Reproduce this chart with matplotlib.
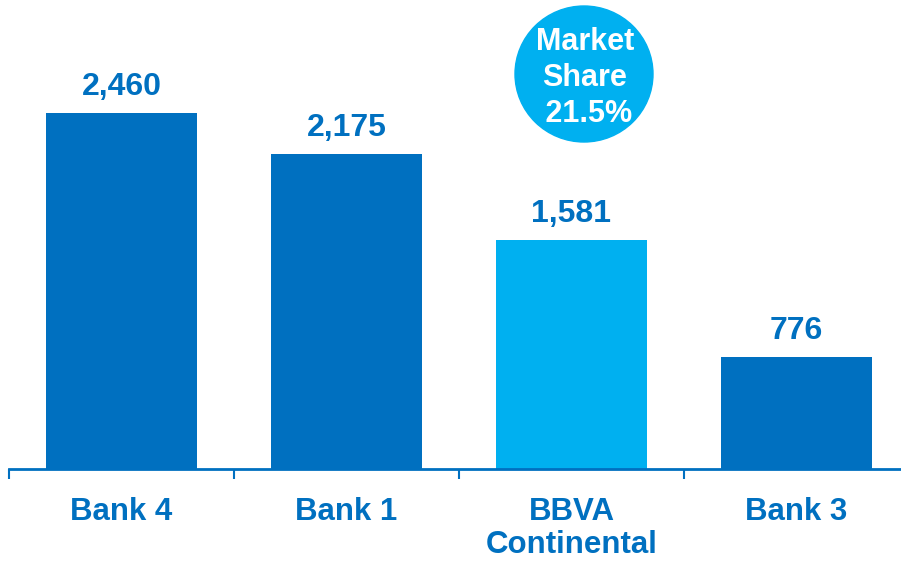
import matplotlib.pyplot as plt
from matplotlib.patches import Ellipse

banks = ['Bank 4', 'Bank 1', 'BBVA\nContinental', 'Bank 3']
values = [2460, 2175, 1581, 776]
highlight = 'BBVA\nContinental'
share_text = 'Market\nShare\n 21.5%'

dark = '#0070C0'
light = '#00B0F0'

plt.rcParams['font.family'] = ['Liberation Sans', 'DejaVu Sans']

fig = plt.figure(figsize=(9.01, 5.61), dpi=100)
ax = fig.add_axes([9 / 901, 92 / 561, 900 / 901, 469 / 561])

x = range(len(banks))
colors = [light if b == highlight else dark for b in banks]
bars = ax.bar(x, values, width=0.67, color=colors, zorder=2)

for xi, v in zip(x, values):
    ax.annotate(f'{v:,}', (xi, v), xytext=(0, 13), textcoords='offset points',
                ha='center', va='baseline', fontsize=23, fontweight='bold', color=dark)

ax.set_xlim(-0.5, len(banks) - 0.5)
ax.set_ylim(0, 469 / 0.1447)

for s in ['top', 'right', 'left']:
    ax.spines[s].set_visible(False)
ax.spines['bottom'].set_color(dark)
ax.spines['bottom'].set_linewidth(2)
ax.spines['bottom'].set_zorder(3)
ax.set_yticks([])

ax.set_xticks([i - 0.5 for i in range(len(banks) + 1)])
ax.set_xticklabels([])
ax.tick_params(axis='x', direction='out', length=7.5, width=1.5, color=dark)
ax.set_xticks(list(x), minor=True)
ax.set_xticklabels(banks, minor=True, fontsize=22.5, fontweight='bold', color=dark,
                   linespacing=1.12, va='top')
ax.tick_params(axis='x', which='minor', length=0, pad=20)

circ = Ellipse((584 / 901, 1 - 74 / 561), 138 / 901, 136 / 561,
               transform=fig.transFigure, color=light, zorder=5)
fig.patches.append(circ)
fig.text(585 / 901, 1 - 78 / 561, share_text, ha='center', va='center',
         fontsize=22, fontweight='bold', color='white', linespacing=1.27, zorder=6)

fig.savefig('out.png', dpi=100)
